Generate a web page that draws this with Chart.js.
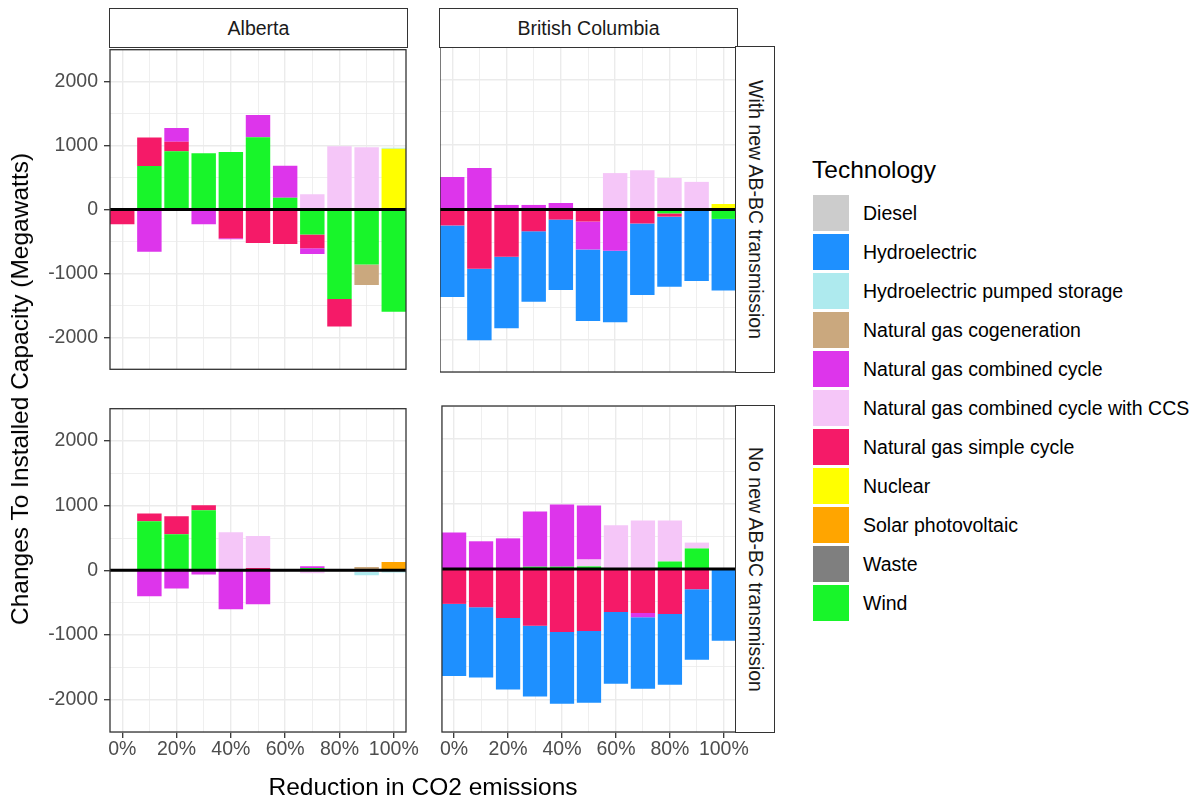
<!DOCTYPE html>
<html>
<head>
<meta charset="utf-8">
<script src="https://cdn.jsdelivr.net/npm/chart.js@4.4.1/dist/chart.umd.min.js"></script>
<style>
  body { margin: 0; background: #fff; font-family: "Liberation Sans", Arial, sans-serif; }
  #page { position: relative; width: 1201px; height: 804px; overflow: hidden; background: #fff; }
  canvas { position: absolute; }
  .strip { position: absolute; box-sizing: border-box; border: 1.3px solid #333; background: #fff;
           color: #1a1a1a; font-size: 19.5px; display: flex; align-items: center; justify-content: center; }
  .strip.side { writing-mode: vertical-rl; }
  .title { position: absolute; font-size: 24.5px; color: #000; white-space: nowrap; transform: translate(-50%, -50%); }
  #legend-title { position: absolute; left: 812px; top: 156px; font-size: 24.5px; line-height: 28px; }
  .key { position: absolute; left: 813px; width: 36px; height: 36px; }
  .key-label { position: absolute; left: 863px; font-size: 19.5px; line-height: 22px; white-space: nowrap; }
</style>
</head>
<body>
<div id="page">
  <canvas id="ab-with"></canvas>
  <canvas id="bc-with"></canvas>
  <canvas id="ab-no"></canvas>
  <canvas id="bc-no"></canvas>

  <div class="strip" style="left:109px; top:8px; width:299px; height:40px;">Alberta</div>
  <div class="strip" style="left:439px; top:8px; width:299px; height:40px;">British Columbia</div>
  <div class="strip side" style="left:735px; top:46px; width:40px; height:327px;">With new AB-BC transmission</div>
  <div class="strip side" style="left:735px; top:405px; width:40px; height:328px;">No new AB-BC transmission</div>

  <div class="title" style="left:423px; top:787px;">Reduction in CO2 emissions</div>
  <div class="title" style="left:20px; top:389px; transform: translate(-50%, -50%) rotate(-90deg);">Changes To Installed Capacity (Megawatts)</div>

  <div id="legend-title">Technology</div>
  <div id="legend"></div>
</div>

<script>
const reductionPct = [0, 10, 20, 30, 40, 50, 60, 70, 80, 90, 100];
const xLabelTicks = [0, 20, 40, 60, 80, 100];
const yLabelTicks = [-2000, -1000, 0, 1000, 2000];

const technologies = [
  "Diesel",
  "Hydroelectric",
  "Hydroelectric pumped storage",
  "Natural gas cogeneration",
  "Natural gas combined cycle",
  "Natural gas combined cycle with CCS",
  "Natural gas simple cycle",
  "Nuclear",
  "Solar photovoltaic",
  "Waste",
  "Wind"
];
const techColors = [
  "#cccccc", "#1e90ff", "#aeeaee", "#caa87e", "#dd35eb",
  "#f5c6f8", "#f51a68", "#ffff00", "#ffa500", "#7f7f7f", "#18f52a"
];

// Alberta, with new AB-BC transmission (MW, one value per reduction step)
const abWithWind    = [0, 680, 910, 880, 900, 1130, 185, -390, -1400, -860, -1600];
const abWithSimple  = [-230, 445, 150, -20, -450, -525, -540, -215, -430, 0, 0];
const abWithNgcc    = [0, -660, 215, -210, -15, 350, 500, -90, 0, 0, 0];
const abWithCcs     = [0, 0, 0, 0, 0, 0, 0, 240, 990, 975, 0];
const abWithNuclear = [0, 0, 0, 0, 0, 0, 0, 0, 0, 0, 950];
const abWithCogen   = [0, 0, 0, 0, 0, 0, 0, 0, 0, -320, 0];
const abWithPumped  = [0, 0, 0, 0, 0, 0, 0, 0, 0, 0, 15];

// British Columbia, with new AB-BC transmission
const bcWithHydro   = [-1100, -1100, -1100, -1085, -1085, -1100, -1100, -1100, -1080, -1100, -1100];
const bcWithSimple  = [-245, -910, -725, -335, -155, -185, 0, -215, -50, 0, 0];
const bcWithNgcc    = [500, 640, 70, 70, 100, -430, -635, 0, 0, 0, 0];
const bcWithCcs     = [0, 0, 0, 0, 0, 0, 560, 605, 485, 425, 0];
const bcWithWind    = [0, 0, 0, 0, 0, 0, 0, 0, -60, 0, -145];
const bcWithNuclear = [0, 0, 0, 0, 0, 0, 0, 0, 0, 0, 85];

// Alberta, no new AB-BC transmission
const abNoWind   = [0, 760, 560, 930, 0, 0, 0, 35, 0, 0, 0];
const abNoSimple = [0, 120, 275, 75, 0, 35, 0, 0, 0, 0, 0];
const abNoNgcc   = [0, -400, -280, -65, -600, -525, 0, 30, 0, 0, 0];
const abNoCcs    = [0, 0, 0, 0, 590, 495, 0, -45, 0, -25, 0];
const abNoCogen  = [0, 0, 0, 0, 0, 0, 0, 0, 0, 50, 0];
const abNoPumped = [0, 0, 0, 0, 0, 0, 0, 0, 0, -50, -35];
const abNoSolar  = [0, 0, 0, 0, 0, 0, 0, 0, 0, 0, 130];

// British Columbia, no new AB-BC transmission
const bcNoHydro  = [-1105, -1080, -1100, -1085, -1100, -1100, -1100, -1095, -1085, -1080, -1100];
const bcNoSimple = [-535, -585, -750, -870, -965, -950, -660, -675, -690, -310, 0];
const bcNoNgcc   = [560, 425, 470, 845, 955, 830, 0, -65, 0, 0, 0];
const bcNoCcs    = [0, 0, 0, 0, 0, 105, 670, 745, 630, 90, 0];
const bcNoWind   = [0, 0, 0, 35, 35, 40, 0, 0, 115, 315, 0];

const X_MIN = -4.5;
const X_MAX = 104.5;
const Y_MIN = -2500;
const Y_MAX = 2500;

const TICK_FONT = { family: "'Liberation Sans', Arial, sans-serif", size: 19.5 };
const GRID_COLOR = "#ebebeb";

const panelFrame = {
  id: "panelFrame",
  afterDraw(chart) {
    const { ctx, chartArea: a } = chart;
    ctx.save();
    ctx.strokeStyle = "#333333";
    ctx.lineWidth = 1.3;
    ctx.strokeRect(a.left, a.top, a.right - a.left, a.bottom - a.top);
    ctx.restore();
  }
};

function buildDatasets(series) {
  // ggplot stacks the last factor level nearest zero, so add datasets from Wind back to Diesel
  const datasets = [];
  for (let i = technologies.length - 1; i >= 0; i--) {
    const values = series[technologies[i]];
    if (!values) continue;
    datasets.push({
      type: "bar",
      label: technologies[i],
      backgroundColor: techColors[i],
      borderWidth: 0,
      order: 1,
      data: reductionPct
        .map((x, j) => ({ x: x, y: values[j] }))
        .filter((p) => p.y !== 0)
    });
  }
  datasets.push({
    type: "line",
    label: "zero",
    data: [{ x: X_MIN, y: 0 }, { x: X_MAX, y: 0 }],
    borderColor: "#000000",
    borderWidth: 3,
    pointRadius: 0,
    order: 0
  });
  return datasets;
}

function makePanel(id, series, row, col) {
  const panelLeft = col === 0 ? 110 : 440;
  const panelTop = row === 0 ? 47 : 406;
  const panelWidth = 296;
  const panelHeight = row === 0 ? 325 : 326;
  const leftSpace = col === 0 ? 110 : 0;
  const bottomSpace = row === 1 ? 45 : 0;
  const pad = 15;

  const canvas = document.getElementById(id);
  canvas.width = leftSpace + panelWidth + 45;
  canvas.height = pad + panelHeight + (row === 1 ? bottomSpace : pad);
  canvas.style.left = panelLeft - leftSpace + "px";
  canvas.style.top = panelTop - pad + "px";

  const showY = col === 0;
  const showX = row === 1;

  return new Chart(canvas.getContext("2d"), {
    type: "bar",
    data: { datasets: buildDatasets(series) },
    options: {
      responsive: false,
      animation: false,
      events: [],
      layout: { padding: { top: pad, right: 45, left: 0, bottom: row === 1 ? 0 : pad } },
      datasets: { bar: { barPercentage: 0.9, categoryPercentage: 1.0 } },
      plugins: { legend: { display: false }, tooltip: { enabled: false } },
      scales: {
        x: {
          type: "linear",
          stacked: true,
          offset: false,
          min: X_MIN,
          max: X_MAX,
          afterBuildTicks: (scale) => {
            scale.ticks = reductionPct.map((v) => ({ value: v }));
          },
          afterFit: (scale) => {
            scale.height = bottomSpace;
          },
          border: { display: false },
          grid: {
            offset: false,
            color: GRID_COLOR,
            lineWidth: (ctx) => (ctx.tick && ctx.tick.value % 20 === 0 ? 1.4 : 0.8),
            drawTicks: showX,
            tickLength: 6,
            tickWidth: 1.3,
            tickColor: (ctx) => (ctx.tick && xLabelTicks.includes(ctx.tick.value) ? "#333333" : "rgba(0,0,0,0)")
          },
          ticks: {
            display: showX,
            autoSkip: false,
            maxRotation: 0,
            minRotation: 0,
            padding: 0,
            color: "#4d4d4d",
            font: TICK_FONT,
            callback: (value) => (xLabelTicks.includes(value) ? value + "%" : "")
          }
        },
        y: {
          type: "linear",
          stacked: true,
          min: Y_MIN,
          max: Y_MAX,
          afterBuildTicks: (scale) => {
            const ticks = [];
            for (let v = Y_MIN; v <= Y_MAX; v += 500) ticks.push({ value: v });
            scale.ticks = ticks;
          },
          afterFit: (scale) => {
            scale.width = leftSpace;
          },
          border: { display: false },
          grid: {
            color: GRID_COLOR,
            lineWidth: (ctx) => (ctx.tick && ctx.tick.value % 1000 === 0 ? 1.4 : 0.8),
            drawTicks: showY,
            tickLength: 6,
            tickWidth: 1.3,
            tickColor: (ctx) => (ctx.tick && yLabelTicks.includes(ctx.tick.value) ? "#333333" : "rgba(0,0,0,0)")
          },
          ticks: {
            display: showY,
            autoSkip: false,
            padding: 6,
            color: "#4d4d4d",
            font: TICK_FONT,
            callback: (value) => (yLabelTicks.includes(value) ? String(value) : "")
          }
        }
      }
    },
    plugins: [panelFrame]
  });
}

makePanel("ab-with", {
  "Wind": abWithWind,
  "Natural gas simple cycle": abWithSimple,
  "Natural gas combined cycle": abWithNgcc,
  "Natural gas combined cycle with CCS": abWithCcs,
  "Nuclear": abWithNuclear,
  "Natural gas cogeneration": abWithCogen,
  "Hydroelectric pumped storage": abWithPumped
}, 0, 0);

makePanel("bc-with", {
  "Hydroelectric": bcWithHydro,
  "Natural gas simple cycle": bcWithSimple,
  "Natural gas combined cycle": bcWithNgcc,
  "Natural gas combined cycle with CCS": bcWithCcs,
  "Wind": bcWithWind,
  "Nuclear": bcWithNuclear
}, 0, 1);

makePanel("ab-no", {
  "Wind": abNoWind,
  "Natural gas simple cycle": abNoSimple,
  "Natural gas combined cycle": abNoNgcc,
  "Natural gas combined cycle with CCS": abNoCcs,
  "Natural gas cogeneration": abNoCogen,
  "Hydroelectric pumped storage": abNoPumped,
  "Solar photovoltaic": abNoSolar
}, 1, 0);

makePanel("bc-no", {
  "Hydroelectric": bcNoHydro,
  "Natural gas simple cycle": bcNoSimple,
  "Natural gas combined cycle": bcNoNgcc,
  "Natural gas combined cycle with CCS": bcNoCcs,
  "Wind": bcNoWind
}, 1, 1);

// legend, built from the same technology and colour lists
const legend = document.getElementById("legend");
technologies.forEach((name, i) => {
  const top = 195 + i * 39;
  const key = document.createElement("div");
  key.className = "key";
  key.style.top = top + "px";
  key.style.background = techColors[i];
  legend.appendChild(key);

  const label = document.createElement("div");
  label.className = "key-label";
  label.style.top = top + 18 - 11 + "px";
  label.textContent = name;
  legend.appendChild(label);
});
</script>
</body>
</html>
